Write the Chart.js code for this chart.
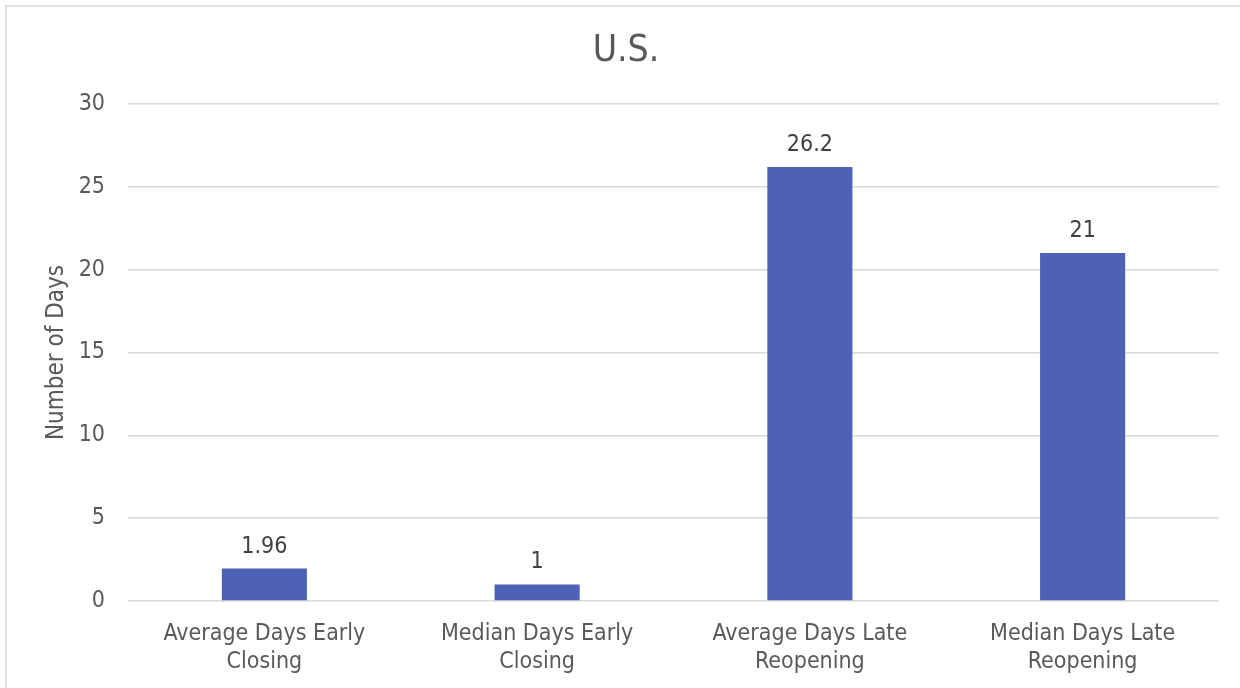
<!DOCTYPE html>
<html>
<head>
<meta charset="utf-8">
<title>U.S.</title>
<script src="https://cdn.jsdelivr.net/npm/chart.js@4/dist/chart.umd.min.js"></script>
<style>
  html, body { margin: 0; padding: 0; background: #ffffff; }
  #wrap { width: 1240px; height: 688px; position: relative; }
</style>
</head>
<body>
<div id="wrap"><canvas id="chart" width="1240" height="688"></canvas></div>
<script>
const chartTitle = 'U.S.';
const axisTitle = 'Number of Days';
const categories = [
  ['Average Days Early', 'Closing'],
  ['Median Days Early', 'Closing'],
  ['Average Days Late', 'Reopening'],
  ['Median Days Late', 'Reopening']
];
const dayValues = [1.96, 1, 26.2, 21];
const valueLabels = ['1.96', '1', '26.2', '21'];
const yTicks = [0, 5, 10, 15, 20, 25, 30];

const FONT = "'DejaVu Sans Condensed', 'DejaVu Sans', sans-serif";
const TEXT_GREY = '#595959';
const GRID_GREY = '#d9d9d9';

// Frame, title and value labels drawn on top of the Chart.js layout
const decorations = {
  id: 'decorations',
  beforeDraw(chart) {
    const ctx = chart.ctx;
    ctx.save();
    ctx.fillStyle = '#ffffff';
    ctx.fillRect(0, 0, chart.width, chart.height);
    ctx.strokeStyle = GRID_GREY;
    ctx.lineWidth = 1.5;
    ctx.beginPath();
    ctx.moveTo(6, chart.height + 2);
    ctx.lineTo(6, 6);
    ctx.lineTo(chart.width + 2, 6);
    ctx.stroke();
    ctx.restore();
  },
  afterDatasetsDraw(chart) {
    const ctx = chart.ctx;
    ctx.save();
    ctx.font = '23px ' + FONT;
    ctx.fillStyle = '#404040';
    ctx.textAlign = 'center';
    ctx.textBaseline = 'alphabetic';
    const meta = chart.getDatasetMeta(0);
    meta.data.forEach((bar, i) => {
      ctx.fillText(valueLabels[i], bar.x, bar.y - 16);
    });
    ctx.font = '37px ' + FONT;
    ctx.fillStyle = TEXT_GREY;
    ctx.textBaseline = 'middle';
    ctx.fillText(chartTitle, 626, 51);
    ctx.restore();
  }
};

new Chart(document.getElementById('chart'), {
  type: 'bar',
  data: {
    labels: categories,
    datasets: [{
      data: dayValues,
      backgroundColor: '#4f61b7',
      borderWidth: 0,
      categoryPercentage: 1,
      barPercentage: 0.312
    }]
  },
  options: {
    responsive: false,
    animation: false,
    devicePixelRatio: 1,
    layout: { padding: { left: 0, right: 21, top: 104, bottom: 0 } },
    plugins: {
      legend: { display: false },
      title: { display: false },
      tooltip: { enabled: false }
    },
    scales: {
      x: {
        grid: { display: false, drawTicks: false },
        border: { display: false },
        ticks: {
          color: TEXT_GREY,
          font: { family: FONT, size: 23, lineHeight: 1.22 },
          padding: 19,
          maxRotation: 0,
          autoSkip: false
        },
        afterFit(scale) { scale.height = 87; }
      },
      y: {
        min: 0,
        max: 30,
        afterBuildTicks(scale) { scale.ticks = yTicks.map(v => ({ value: v })); },
        grid: { color: GRID_GREY, lineWidth: 1.5, drawTicks: false },
        border: { display: false },
        ticks: {
          color: TEXT_GREY,
          font: { family: FONT, size: 23 },
          padding: 23
        },
        title: {
          display: true,
          text: axisTitle,
          color: TEXT_GREY,
          font: { family: FONT, size: 24 },
          padding: { top: 42, bottom: 0 }
        },
        afterFit(scale) { scale.width = 128; }
      }
    }
  },
  plugins: [decorations]
});
</script>
</body>
</html>
